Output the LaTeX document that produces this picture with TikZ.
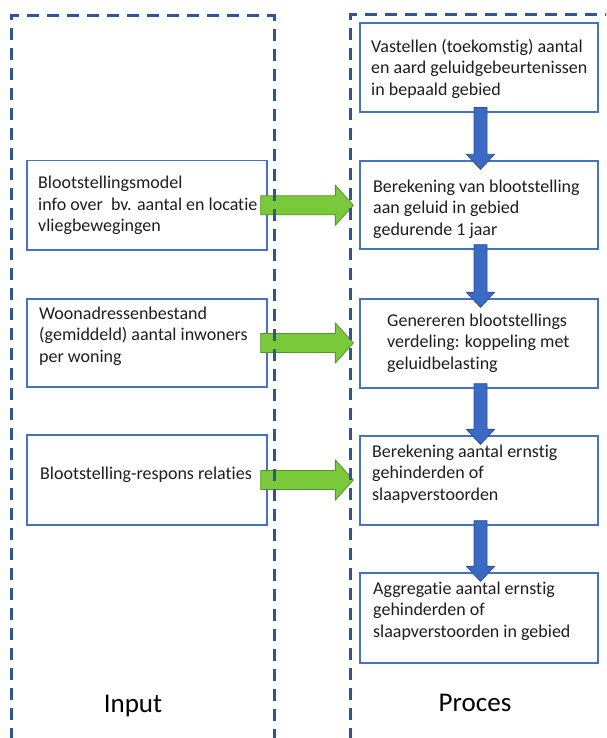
\documentclass[tikz,border=0pt]{standalone}
\usepackage{fontspec}
\setmainfont{Carlito}[Ligatures=NoCommon]
\usetikzlibrary{calc}
\definecolor{frameblue}{RGB}{47,85,151}
\definecolor{boxblue}{RGB}{68,114,196}
\definecolor{arrowblue}{RGB}{59,106,196}
\definecolor{arrowedge}{RGB}{47,82,143}
\definecolor{greenfill}{RGB}{122,201,58}
\definecolor{greenedge}{RGB}{84,150,40}
\definecolor{txtcol}{RGB}{30,30,30}
\begin{document}
\begin{tikzpicture}[x=1pt,y=-1pt,
 box/.style={draw=boxblue, line width=1.3pt, fill=white, inner sep=0pt},
 txt/.style={font=\fontsize{18}{21.5}\selectfont, align=left, anchor=west, inner sep=0pt, text=txtcol},
 lbl/.style={font=\fontsize{27}{30}\selectfont, inner sep=0pt, text=black},
 frame/.style={draw=frameblue, line width=3pt, dash pattern=on 12pt off 8pt},
 bluearrow/.style={fill=arrowblue, draw=arrowedge, line width=0.8pt, line join=miter},
 greenarrow/.style={fill=greenfill, draw=greenedge, line width=0.8pt, line join=miter}]
\useasboundingbox (0,0) rectangle (606,738);
\clip (0,0) rectangle (606,738);
\fill[white] (0,0) rectangle (606,738);

% process boxes
\node[box, minimum width=238, minimum height=89] (p1) at (479,67.5) {};
\node[box, minimum width=238, minimum height=88] (p2) at (479,205) {};
\node[box, minimum width=238, minimum height=89] (p3) at (479,343.5) {};
\node[box, minimum width=238, minimum height=89] (p4) at (479,480.5) {};
\node[box, minimum width=238, minimum height=90] (p5) at (479,618) {};
% input boxes
\node[box, minimum width=240, minimum height=89.5] (i1) at (147,205.25) {};
\node[box, minimum width=240, minimum height=88] (i2) at (147,343) {};
\node[box, minimum width=240, minimum height=90] (i3) at (147,480) {};

% texts
\node[txt] (t1) at (371,68.5) {Vastellen (toekomstig) aantal\\en aard geluidgebeurtenissen\\in bepaald gebied};
\node[txt] (t2) at (373,209) {Berekening van blootstelling\\aan geluid in gebied\\gedurende 1 jaar};
\node[txt] (t3) at (387,343) {Genereren blootstellings\\verdeling: koppeling met\\geluidbelasting};
\node[txt] (t4) at (372,474) {Berekening aantal ernstig\\gehinderden of\\slaapverstoorden};
\node[txt] (t5) at (373,611) {Aggregatie aantal ernstig\\gehinderden of\\slaapverstoorden in gebied};
\node[txt] (s1) at (38,205.5) {Blootstellingsmodel\\info over\ \ bv. aantal en locatie\\vliegbewegingen};
\node[txt] (s2) at (39,336) {Woonadressenbestand\\(gemiddeld) aantal inwoners\\per woning};
\node[txt] (s3) at (40,475) {Blootstelling-respons relaties};

% blue block arrows
\foreach \a/\b in {p1/p2,p2/p3,p3/p4,p4/p5}{
  \draw[bluearrow] ($(\a.south)+(-5,-5)$) -- ($(\b.north)+(-5,-6)$) -- ($(\b.north)+(-12.5,-6)$)
    -- ($(\b.north)+(1.5,9)$) -- ($(\b.north)+(15.5,-6)$) -- ($(\b.north)+(8,-6)$)
    -- ($(\a.south)+(8,-5)$) -- cycle;
}
% green block arrows
\foreach \a/\b in {i1/p2,i2/p3,i3/p4}{
  \draw[greenarrow] ($(\a.east)+(-7,-9.5)$) -- ($(\b.west |- \a.east)+(-24,-9.5)$)
    -- ($(\b.west |- \a.east)+(-24,-20)$) -- ($(\b.west |- \a.east)+(-6,0)$)
    -- ($(\b.west |- \a.east)+(-24,20)$) -- ($(\b.west |- \a.east)+(-24,9.5)$)
    -- ($(\a.east)+(-7,9.5)$) -- cycle;
}

% dashed frames
\draw[frame] (11,760) -- (11,16) -- (274,16) -- (274,760);
\draw[frame] (350,760) -- (350,15) -- (630,15);

% labels
\node[lbl] (inlbl) at (133,706) {Input};
\node[lbl] (prlbl) at (475,703) {Proces};
\end{tikzpicture}
\end{document}
